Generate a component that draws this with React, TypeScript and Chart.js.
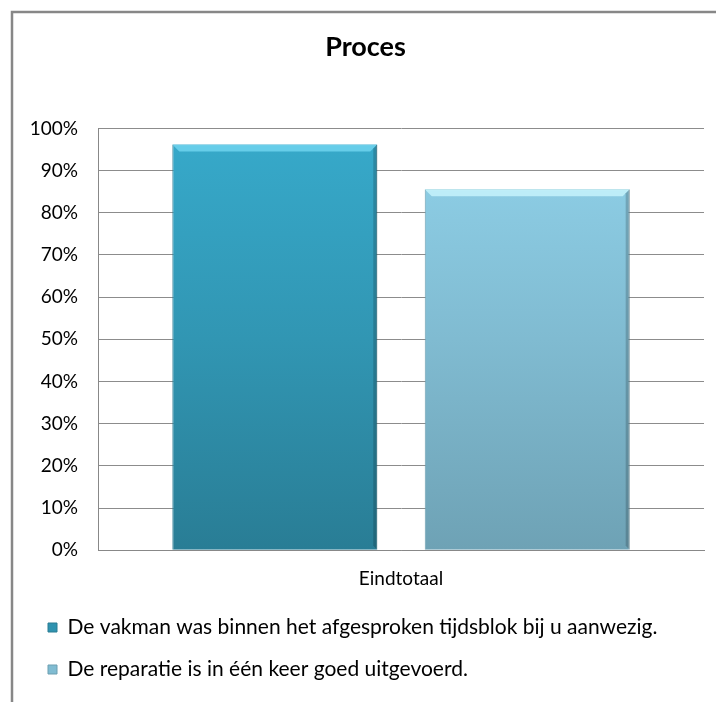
import React, { useEffect, useRef } from "react";
import { Chart, registerables } from "chart.js";

Chart.register(...registerables);

const title = "Proces";
const categories = ["Eindtotaal"];
const seriesNames = [
  "De vakman was binnen het afgesproken tijdsblok bij u aanwezig.",
  "De reparatie is in één keer goed uitgevoerd.",
];
const seriesVakman = [96.2];
const seriesReparatie = [85.6];
const yMin = 0;
const yMax = 100;
const yStep = 10;

const FONT = "Lato, 'Liberation Sans', sans-serif";

const gradStops = [
  ["#37aacb", "#3196b3", "#297d95"],
  ["#90d2ea", "#80bbd1", "#6ea2b5"],
];
const solid = ["#2f93b0", "#80bcd2"];
const bevelTop = ["#6fd4ee", "#c6f3fc"];

const frame = {
  id: "frame",
  beforeDraw(chart: any) {
    const c = chart.ctx;
    c.save();
    c.strokeStyle = "#878787";
    c.lineWidth = 2.5;
    c.beginPath();
    c.moveTo(12, chart.height);
    c.lineTo(12, 12);
    c.lineTo(chart.width, 12);
    c.stroke();
    c.restore();
  },
};

const bevel = {
  id: "bevel",
  afterDatasetsDraw(chart: any) {
    const c = chart.ctx;
    chart.data.datasets.forEach((ds: any, di: number) => {
      const meta = chart.getDatasetMeta(di);
      meta.data.forEach((bar: any) => {
        const { x, y, width } = bar.getProps(["x", "y", "width"], true);
        const l = x - width / 2;
        const r = x + width / 2;
        const h = 7;
        c.save();
        c.fillStyle = bevelTop[di];
        c.globalAlpha = 0.85;
        c.beginPath();
        c.moveTo(l, y);
        c.lineTo(r, y);
        c.lineTo(r - h, y + h);
        c.lineTo(l + h, y + h);
        c.closePath();
        c.fill();
        c.globalAlpha = 0.18;
        c.fillStyle = "#000";
        c.beginPath();
        c.moveTo(r, y);
        c.lineTo(r, bar.base);
        c.lineTo(r - 4, bar.base - 4);
        c.lineTo(r - 4, y + 4);
        c.closePath();
        c.fill();
        c.restore();
      });
    });
  },
};

function makeGradient(chart: any, i: number) {
  const area = chart.chartArea;
  if (!area) return solid[i];
  const g = chart.ctx.createLinearGradient(0, area.top, 0, area.bottom);
  g.addColorStop(0, gradStops[i][0]);
  g.addColorStop(0.5, gradStops[i][1]);
  g.addColorStop(1, gradStops[i][2]);
  return g;
}

export default function App() {
  const ref = useRef<HTMLCanvasElement | null>(null);
  useEffect(() => {
    if (!ref.current) return;
    const chart = new Chart(ref.current, {
      type: "bar",
      data: {
        labels: categories,
        datasets: [
          {
            label: seriesNames[0],
            data: seriesVakman,
            backgroundColor: (ctx: any) => makeGradient(ctx.chart, 0),
            borderColor: "#2a7c93",
            borderWidth: 1,
          },
          {
            label: seriesNames[1],
            data: seriesReparatie,
            backgroundColor: (ctx: any) => makeGradient(ctx.chart, 1),
            borderColor: "#6c9fb1",
            borderWidth: 1,
          },
        ],
      },
      options: {
        animation: false,
        responsive: false,
        maintainAspectRatio: false,
        categoryPercentage: 0.833,
        barPercentage: 0.812,
        layout: { padding: { left: 27, right: 12, top: 0, bottom: 12 } },
        plugins: {
          title: {
            display: true,
            text: title,
            color: "#000",
            font: { family: FONT, size: 27, weight: "bold" },
            padding: { top: 31, bottom: 65 },
          },
          legend: {
            position: "bottom",
            align: "start",
            labels: {
              color: "#000",
              font: { family: FONT, size: 21 },
              boxWidth: 9,
              boxHeight: 9,
              padding: 21,
              generateLabels: (ch: any) =>
                ch.data.datasets.map((ds: any, i: number) => ({
                  text: ds.label,
                  fillStyle: solid[i],
                  strokeStyle: i === 0 ? "#2a7c93" : "#6c9fb1",
                  lineWidth: 1,
                  hidden: false,
                  datasetIndex: i,
                  fontColor: "#000",
                })),
            },
          },
          tooltip: { enabled: false },
        },
        scales: {
          x: {
            afterFit: (s: any) => {
              s.height = s.height - 11;
            },
            grid: { display: false, drawTicks: false },
            border: { display: true, color: "#888888", width: 1 },
            ticks: { color: "#000", font: { family: FONT, size: 19 }, padding: 17 },
          },
          y: {
            min: yMin,
            max: yMax,
            afterFit: (s: any) => {
              s.width = 71;
            },
            grid: { color: "#8c8c8c", lineWidth: 1, drawTicks: false },
            border: { display: true, color: "#888888", width: 1 },
            ticks: {
              stepSize: yStep,
              color: "#000",
              font: { family: FONT, size: 19 },
              padding: 20,
              callback: (v: any) => `${v}%`,
            },
          },
        },
      },
      plugins: [frame, bevel],
    });
    return () => chart.destroy();
  }, []);
  return (
    <div style={{ position: "absolute", left: 0, top: 0, width: 716, height: 702, background: "#fff" }}>
      <canvas ref={ref} width={716} height={702} style={{ display: "block" }} />
    </div>
  );
}
